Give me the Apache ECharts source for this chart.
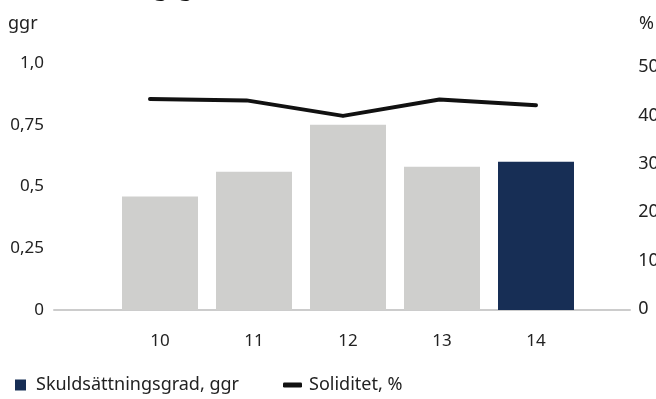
<!DOCTYPE html>
<html>
<head>
<meta charset="utf-8">
<script src="https://cdn.jsdelivr.net/npm/echarts@6/dist/echarts.min.js"></script>
<style>
  html, body { margin: 0; padding: 0; background: #ffffff; }
  #chart { width: 656px; height: 399px; }
</style>
</head>
<body>
<div id="chart"></div>
<script>
// Years on the category axis
const years = ['10', '11', '12', '13', '14'];
// Debt/equity ratio (times), left axis
const debtRatio = [0.46, 0.56, 0.75, 0.58, 0.60];
// Equity ratio (%), right axis
const equityRatio = [43.4, 43.1, 39.9, 43.3, 42.1];
// Tick values
const leftTicks = [0, 0.25, 0.5, 0.75, 1.0];
const rightTicks = [0, 10, 20, 30, 40, 50];

const NAVY = '#172e55';
const GREY = '#cfcfcd';
const TEXT = '#222222';
const FONT = '"Noto Sans", "Open Sans", sans-serif';
const SIZE = 17;

const fmtLeft = v => {
  if (v === 1) return '1,0';
  return String(v).replace('.', ',');
};

const chart = echarts.init(document.getElementById('chart'), null, { renderer: 'canvas' });

chart.setOption({
  animation: false,
  backgroundColor: '#ffffff',
  textStyle: { fontFamily: FONT },
  title: {
    text: 'Skuldsättningsgrad',
    left: 10,
    top: -26,
    textStyle: { fontFamily: FONT, fontSize: 22, fontWeight: 'bold', color: '#111111' }
  },
  graphic: [
    { type: 'text', left: 8, top: 15, style: { text: 'ggr', font: '18px ' + FONT, fill: TEXT } },
    { type: 'text', left: 639, top: 15, style: { text: '%', font: '18px ' + FONT, fill: TEXT } }
  ],
  legend: [
    {
      left: 15, top: 376, padding: 0,
      data: [{ name: 'Skuldsättningsgrad, ggr', icon: 'rect' }],
      itemWidth: 11, itemHeight: 11,
      textStyle: { fontFamily: FONT, fontSize: 18, color: TEXT, padding: [0, 0, 0, 5] },
      selectedMode: false
    },
    {
      left: 283, top: 376, padding: 0,
      data: [{ name: 'Soliditet, %', icon: 'roundRect' }],
      itemWidth: 19, itemHeight: 5,
      textStyle: { fontFamily: FONT, fontSize: 18, color: TEXT, padding: [0, 0, 0, 2] },
      selectedMode: false
    }
  ],
  grid: [
    // bars
    { left: 113, width: 470, top: 63, height: 247, outerBoundsMode: 'none' },
    // baseline and left axis labels
    { left: 54, width: 576, top: 63, height: 247, outerBoundsMode: 'none' },
    // line and right axis labels
    { left: 101.75, width: 482.5, top: 67, height: 242, outerBoundsMode: 'none' }
  ],
  xAxis: [
    {
      gridIndex: 0, type: 'category', data: years,
      axisLine: { show: false }, axisTick: { show: false },
      axisLabel: { fontFamily: FONT, fontSize: SIZE, color: TEXT, margin: 23 }
    },
    {
      gridIndex: 1, type: 'category', data: years,
      axisLine: { show: true, lineStyle: { color: '#cccccc', width: 2 } },
      axisTick: { show: false }, axisLabel: { show: false }
    },
    {
      gridIndex: 2, type: 'category', data: years,
      axisLine: { show: false }, axisTick: { show: false }, axisLabel: { show: false }
    }
  ],
  yAxis: [
    {
      gridIndex: 0, type: 'value', min: 0, max: 1, interval: 0.25,
      axisLine: { show: false }, axisTick: { show: false },
      axisLabel: { show: false }, splitLine: { show: false }
    },
    {
      gridIndex: 1, type: 'value', min: 0, max: 1, interval: 0.25,
      axisLine: { show: false }, axisTick: { show: false }, splitLine: { show: false },
      axisLabel: {
        fontFamily: FONT, fontSize: SIZE, color: TEXT, margin: 10,
        formatter: v => (leftTicks.includes(v) ? fmtLeft(v) : '')
      }
    },
    {
      gridIndex: 2, type: 'value', position: 'right', min: 0, max: 50, interval: 10,
      axisLine: { show: false }, axisTick: { show: false }, splitLine: { show: false },
      axisLabel: {
        fontFamily: FONT, fontSize: 18, color: TEXT, margin: 54,
        formatter: v => (rightTicks.includes(v) ? String(v) : '')
      }
    }
  ],
  series: [
    {
      name: 'Skuldsättningsgrad, ggr',
      type: 'bar',
      xAxisIndex: 0, yAxisIndex: 0,
      barWidth: 76,
      itemStyle: { color: NAVY },
      data: debtRatio.map((v, i) => (
        i === debtRatio.length - 1 ? v : { value: v, itemStyle: { color: GREY } }
      ))
    },
    {
      name: 'Soliditet, %',
      type: 'line',
      xAxisIndex: 2, yAxisIndex: 2,
      data: equityRatio,
      symbol: 'none',
      itemStyle: { color: '#111111' },
      lineStyle: { color: '#111111', width: 4, cap: 'round', join: 'round' }
    }
  ]
});
</script>
</body>
</html>
